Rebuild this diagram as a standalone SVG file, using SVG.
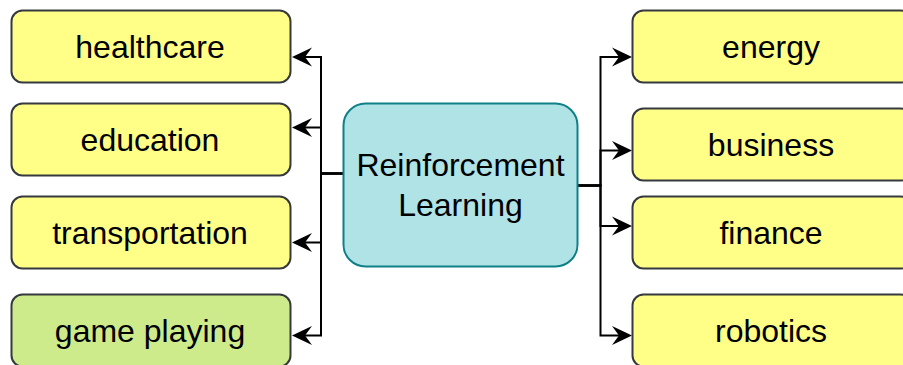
<svg xmlns="http://www.w3.org/2000/svg" width="903" height="365" viewBox="0 0 903 365">
<style>
.box{fill:#ffff88;stroke:#36393d;stroke-width:2}
.green{fill:#cdeb8b;stroke:#36393d;stroke-width:2}
.center{fill:#b0e3e6;stroke:#0e8088;stroke-width:2}
.lbl{font-family:"Liberation Sans",Arial,sans-serif;font-size:32px;fill:#000;text-anchor:middle}
.edge{fill:none;stroke:#000;stroke-width:2}
</style>
<defs>
<marker id="arr" markerUnits="userSpaceOnUse" viewBox="-21 -11 22 22" refX="-13" refY="0" markerWidth="22" markerHeight="22" orient="auto">
<path d="M0,0 L-20,-9.5 L-13,0 L-20,9.5 Z" fill="#000"/>
</marker>
</defs>
<g id="connectors">
<path class="edge" marker-end="url(#arr)" d="M343.5,173.5 H321 V57 H305"/>
<path class="edge" marker-end="url(#arr)" d="M343.5,173.5 H321 V127.5 H305"/>
<path class="edge" marker-end="url(#arr)" d="M343.5,173.5 H321 V242.5 H305"/>
<path class="edge" marker-end="url(#arr)" d="M343.5,173.5 H321 V335.5 H305"/>
<path class="edge" marker-end="url(#arr)" d="M577.5,185.5 H600.5 V57 H619"/>
<path class="edge" marker-end="url(#arr)" d="M577.5,185.5 H600.5 V150.5 H619"/>
<path class="edge" marker-end="url(#arr)" d="M577.5,185.5 H600.5 V226 H619"/>
<path class="edge" marker-end="url(#arr)" d="M577.5,185.5 H600.5 V335.5 H619"/>
</g>
<g id="center">
<rect class="center" x="343.5" y="103.5" width="234" height="163" rx="22"/>
<text class="lbl" x="460.5" y="176">Reinforcement</text>
<text class="lbl" x="460.5" y="216">Learning</text>
</g>
<g id="healthcare">
<rect class="box" x="11.5" y="10.5" width="279" height="72" rx="11"/>
<text class="lbl" x="150" y="57.5">healthcare</text>
</g>
<g id="education">
<rect class="box" x="11.5" y="103.5" width="279" height="72" rx="11"/>
<text class="lbl" x="150" y="150.5">education</text>
</g>
<g id="transportation">
<rect class="box" x="11.5" y="196.5" width="279" height="72" rx="11"/>
<text class="lbl" x="150" y="243.5">transportation</text>
</g>
<g id="game-playing">
<rect class="green" x="11.5" y="294.5" width="279" height="72" rx="11"/>
<text class="lbl" x="150" y="341.5">game playing</text>
</g>
<g id="energy">
<rect class="box" x="632.5" y="10.5" width="279" height="72" rx="11"/>
<text class="lbl" x="771" y="57.5">energy</text>
</g>
<g id="business">
<rect class="box" x="632.5" y="108.5" width="279" height="72" rx="11"/>
<text class="lbl" x="771" y="155.5">business</text>
</g>
<g id="finance">
<rect class="box" x="632.5" y="196.5" width="279" height="72" rx="11"/>
<text class="lbl" x="771" y="243.5">finance</text>
</g>
<g id="robotics">
<rect class="box" x="632.5" y="294.5" width="279" height="72" rx="11"/>
<text class="lbl" x="771" y="341.5">robotics</text>
</g>
</svg>
